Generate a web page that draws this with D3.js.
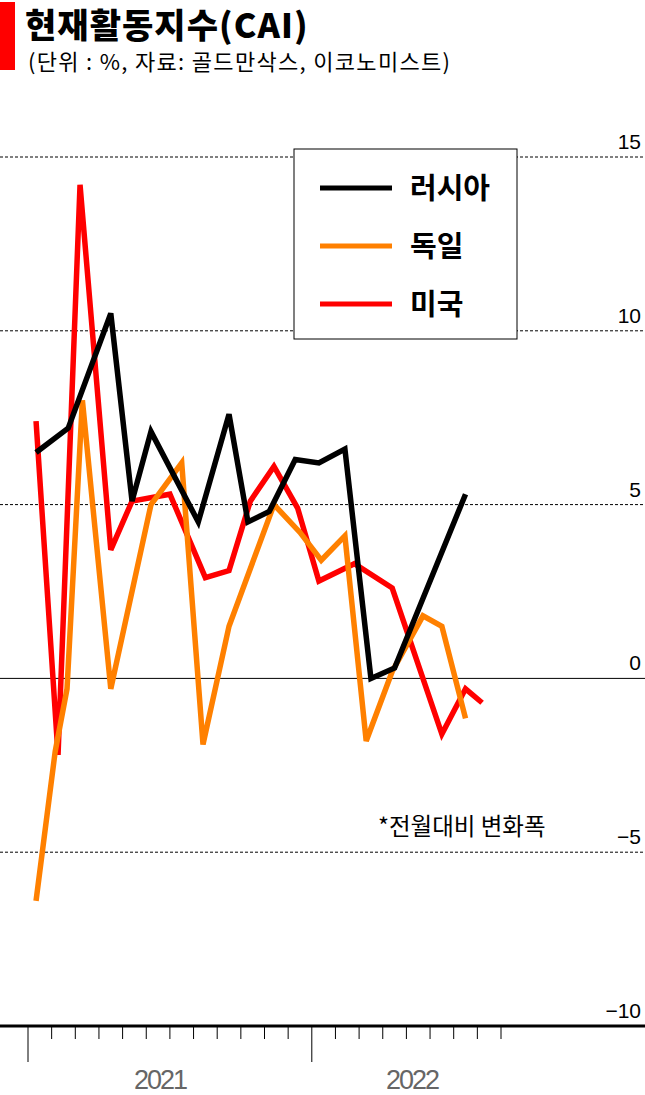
<!DOCTYPE html>
<html><head><meta charset="utf-8">
<script src="https://cdn.jsdelivr.net/npm/d3@7"></script>
<style>body{margin:0;background:#fff}svg{display:block;font-family:"Noto Sans CJK KR","Noto Sans",sans-serif}</style>
</head><body><div id="chart"></div>
<script>
// month index (0 = start of Jan 2021), value in %
var russiaM = [0.34, 1.7, 3.5, 4.4, 5.2, 7.2, 8.5, 9.3, 10.2, 11.3, 12.3, 13.4, 14.5, 15.5, 18.5];
var russiaV = [6.5, 7.2, 10.5, 5.1, 7.1, 4.5, 7.6, 4.5, 4.8, 6.3, 6.2, 6.6, 0, 0.3, 5.3];
var germanyM = [0.34, 1.15, 1.65, 2.3, 3.5, 5.2, 6.5, 7.4, 8.5, 10.4, 11.5, 12.4, 13.4, 14.3, 15.4, 16.7, 17.5, 18.5];
var germanyV = [-6.4, -2.1, -0.3, 8.0, -0.3, 5.0, 6.2, -1.9, 1.5, 5.0, 4.2, 3.4, 4.1, -1.8, 0.2, 1.8, 1.5, -1.15];
var usM = [0.34, 1.27, 2.2, 3.5, 4.4, 6.0, 7.5, 8.5, 9.4, 10.4, 11.4, 12.3, 13.8, 15.4, 17.5, 18.5, 19.2];
var usV = [7.4, -2.2, 14.2, 3.7, 5.1, 5.3, 2.9, 3.1, 5.1, 6.1, 4.9, 2.8, 3.3, 2.6, -1.6, -0.3, -0.7];
var yTicks = [15, 10, 5, 0, -5, -10];
var years = ["2021", "2022"];
var series = [
  {name: "러시아", m: russiaM, v: russiaV, color: "#000000"},
  {name: "독일", m: germanyM, v: germanyV, color: "#ff8000"},
  {name: "미국", m: usM, v: usV, color: "#ff0000"}
];

var width = 645, height = 1095;
var svg = d3.select("#chart").append("svg").attr("width", width).attr("height", height);

var x = d3.scaleLinear().domain([0, 20]).range([28, 501]);
var y = d3.scaleLinear().domain([-10, 15]).range([1026, 157]);

// title
svg.append("rect").attr("x", 0).attr("y", 2).attr("width", 15).attr("height", 68).attr("fill", "#ff0000");
svg.append("text").attr("x", 25).attr("y", 38).style("font-size", "34px").style("font-weight", "900")
  .style("letter-spacing", "-0.5px").attr("textLength", 282).text("현재활동지수(CAI)");
svg.append("text").attr("x", 28).attr("y", 70).style("font-size", "22px").attr("textLength", 422).text("(단위 : %, 자료: 골드만삭스, 이코노미스트)");

// grid
yTicks.forEach(function(t) {
  if (t !== -10) {
    svg.append("line").attr("x1", 0).attr("x2", width).attr("y1", y(t)).attr("y2", y(t))
      .attr("stroke", "#000").attr("stroke-width", 1).attr("stroke-dasharray", t === 0 ? null : "3,2");
  }
  svg.append("text").attr("x", 641).attr("y", y(t) - 8).attr("text-anchor", "end")
    .style("font-size", "21px").style("font-family", "Liberation Sans, sans-serif")
    .text(t < 0 ? "\u2212" + Math.abs(t) : t);
});

// bottom axis
svg.append("line").attr("x1", 0).attr("x2", width).attr("y1", 1026).attr("y2", 1026).attr("stroke", "#000").attr("stroke-width", 3);
d3.range(0, 21).forEach(function(i) {
  var major = i % 12 === 0;
  svg.append("line").attr("x1", x(i)).attr("x2", x(i)).attr("y1", 1027).attr("y2", major ? 1062 : 1039)
    .attr("stroke", "#000").attr("stroke-width", 1);
});
years.forEach(function(yr, i) {
  svg.append("text").attr("x", i === 0 ? 160 : 412).attr("y", 1089).attr("text-anchor", "middle")
    .attr("fill", "#666").style("font-size", "27px").style("font-family", "Liberation Sans, sans-serif")
    .style("letter-spacing", "-2px").text(yr);
});

// lines
var line = d3.line().x(function(d) { return x(d[0]); }).y(function(d) { return y(d[1]); });
series.slice().reverse().forEach(function(s) {
  svg.append("path").datum(d3.zip(s.m, s.v)).attr("d", line).attr("fill", "none")
    .attr("stroke", s.color).attr("stroke-width", 5.5).attr("stroke-linejoin", "miter");
});

// legend
var lg = svg.append("g");
lg.append("rect").attr("x", 294).attr("y", 149).attr("width", 223).attr("height", 190).attr("fill", "#fff").attr("stroke", "#000").attr("stroke-width", 1);
series.forEach(function(s, i) {
  var ly = 188 + i * 58;
  lg.append("line").attr("x1", 320).attr("x2", 392).attr("y1", ly).attr("y2", ly).attr("stroke", s.color).attr("stroke-width", 5);
  lg.append("text").attr("x", 410).attr("y", ly + 11).style("font-size", "29px").style("font-weight", "bold").text(s.name);
});

svg.append("text").attr("x", 378).attr("y", 835).style("font-size", "23.5px").text("*전월대비 변화폭");
</script></body></html>
